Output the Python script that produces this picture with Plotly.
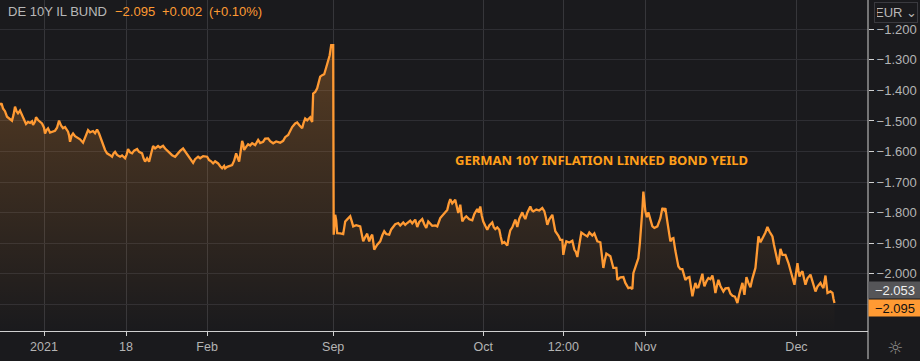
import plotly.graph_objects as go

bar_position = [0,1.5,3,5,7,9,12,13.5,15,16.5,18,20,22,24,26,28,30,32,33,35,36,38,40,42,44,45,46.5,48,50,52,55,57,59,61,63,65,68,69,70,71.5,73,75,78,80,83,85,88,90,93,95,97,99,100,102,105,107,110,112,113.5,115,117,120,122,125,126.5,128,130,132,134,137,139,142,143.5,145,147,149,151,153,155,158,160,163,165,167,170,172,175,177,180,183,185,188,190,193,195,198,200,203,207,209,211,213,215,218,220,222,224,225,227,230,232,234,236,237.5,239,240.5,242,243,244,246,248,250,252,255,256.5,258,260,263,265,268,270,273,276,280,283,285,288,290,292,295,297,299,302,303.5,305,307,310,311,312,313,315,317,320,322,324,326,328,329.5,331,333,
333.5,334,335,336,337,340,343,344,345,347,350,351.5,353,356,360,361.5,363,365,367,368,369,370.5,372,373,374,377,380,382,384,386,389,391,393,395,398,400,403,405,407,410,412,415,416,417,419,422,424,426,428,430,432,435,437,440,443,445,447,448.5,450,452,455,456.5,458,459,460,461,462,464,466,469,472,474,477,478.5,480,481.5,483,485,487,489,492,493.5,495,497,499,500.5,502,504,507,508.5,510,512,515,516,517,519,522,523.5,525,527,530,531.5,533,536,539,542,544,545.5,547,549,552,553.5,555,558,560,562,563,564.5,566,569,572,574,575.5,577,579,581,584,587,589,592,594,597,600,601.5,603,604.5,606,610,611.5,613,616,617,620,623,625,628,630,632,633,636,638,639.5,641,642,643,644,645,646.5,648,650,652,654,657,660,662,664,665,667,670,671.5,673,675,678,680,682,685,687,689,690.5,692,693.5,695,696.5,698,700,702,703,704,706,708,710,712,713.5,715,716.5,718,720,723,725,728,730,732,734.5,737,739,742,743,744,745,746,748,750,752,755,756.5,758,760,761.5,763,765,767,769,772,773.5,775,776.5,778,779,780,782,785,788,791,792.5,794,795.5,797,798,799,800.5,802,803.5,805,807,810,812,815,817,820,821.5,823,824,825,826,827,830,832,833,834]

yield_values = [-1.448,-1.442,-1.459,-1.468,-1.486,-1.492,-1.499,-1.480,-1.453,-1.468,-1.475,-1.466,-1.481,-1.490,-1.510,-1.503,-1.506,-1.501,-1.513,-1.502,-1.488,-1.497,-1.503,-1.508,-1.522,-1.541,-1.530,-1.524,-1.538,-1.535,-1.532,-1.522,-1.499,-1.515,-1.524,-1.520,-1.535,-1.547,-1.568,-1.548,-1.541,-1.550,-1.557,-1.560,-1.571,-1.552,-1.530,-1.537,-1.533,-1.540,-1.528,-1.541,-1.552,-1.568,-1.595,-1.606,-1.612,-1.617,-1.606,-1.601,-1.611,-1.617,-1.613,-1.622,-1.610,-1.592,-1.603,-1.606,-1.597,-1.592,-1.601,-1.606,-1.622,-1.633,-1.622,-1.633,-1.607,-1.582,-1.590,-1.582,-1.587,-1.581,-1.590,-1.597,-1.606,-1.612,-1.617,-1.608,-1.598,-1.590,-1.600,-1.612,-1.622,-1.637,-1.625,-1.617,-1.622,-1.615,-1.617,-1.628,-1.632,-1.639,-1.632,-1.639,-1.648,-1.655,-1.647,-1.655,-1.650,-1.647,-1.644,-1.630,-1.606,-1.620,-1.633,-1.600,-1.565,-1.575,-1.595,-1.585,-1.576,-1.580,-1.573,-1.579,-1.572,-1.562,-1.572,-1.568,-1.558,-1.557,-1.566,-1.573,-1.567,-1.571,-1.565,-1.553,-1.546,-1.532,-1.520,-1.508,-1.505,-1.513,-1.524,-1.505,-1.492,-1.498,-1.488,-1.497,-1.503,-1.410,-1.405,-1.393,-1.355,-1.350,-1.347,-1.325,-1.301,-1.285,-1.252,-1.252,
-1.872,-1.835,-1.807,-1.825,-1.867,-1.868,-1.870,-1.850,-1.829,-1.822,-1.812,-1.828,-1.845,-1.841,-1.845,-1.870,-1.894,-1.880,-1.869,-1.884,-1.894,-1.880,-1.872,-1.895,-1.921,-1.905,-1.894,-1.875,-1.861,-1.870,-1.872,-1.855,-1.847,-1.838,-1.834,-1.842,-1.832,-1.840,-1.834,-1.826,-1.835,-1.823,-1.835,-1.847,-1.830,-1.821,-1.838,-1.850,-1.829,-1.836,-1.843,-1.842,-1.845,-1.818,-1.806,-1.798,-1.791,-1.770,-1.756,-1.770,-1.758,-1.780,-1.801,-1.790,-1.774,-1.800,-1.829,-1.818,-1.812,-1.822,-1.825,-1.805,-1.788,-1.800,-1.780,-1.810,-1.829,-1.843,-1.856,-1.842,-1.832,-1.848,-1.854,-1.848,-1.856,-1.880,-1.900,-1.896,-1.908,-1.880,-1.858,-1.848,-1.823,-1.835,-1.847,-1.820,-1.799,-1.812,-1.821,-1.800,-1.780,-1.792,-1.796,-1.790,-1.793,-1.785,-1.795,-1.815,-1.840,-1.822,-1.807,-1.835,-1.861,-1.875,-1.889,-1.889,-1.938,-1.912,-1.894,-1.898,-1.892,-1.921,-1.928,-1.945,-1.905,-1.865,-1.872,-1.878,-1.865,-1.875,-1.868,-1.894,-1.897,-1.940,-1.981,-1.955,-1.934,-1.943,-1.965,-1.981,-1.981,-2.020,-2.012,-2.011,-2.030,-2.047,-2.045,-2.050,-1.998,-1.972,-1.949,-1.900,-1.845,-1.790,-1.731,-1.770,-1.796,-1.815,-1.799,-1.822,-1.845,-1.850,-1.845,-1.818,-1.785,-1.792,-1.785,-1.830,-1.894,-1.885,-1.883,-1.925,-1.976,-1.985,-1.985,-2.020,-2.013,-2.011,-2.040,-2.074,-2.050,-2.030,-2.045,-2.044,-2.022,-2.000,-2.025,-2.041,-2.025,-2.014,-2.018,-2.006,-2.030,-2.063,-2.040,-2.020,-2.040,-2.058,-2.048,-2.047,-2.065,-2.072,-2.075,-2.096,-2.065,-2.030,-2.050,-2.069,-2.040,-2.011,-2.030,-2.044,-2.015,-1.981,-1.930,-1.878,-1.897,-1.885,-1.878,-1.865,-1.847,-1.862,-1.878,-1.905,-1.932,-1.950,-1.970,-1.945,-1.919,-1.938,-1.938,-1.965,-1.998,-2.018,-2.036,-2.000,-1.965,-1.990,-2.009,-1.998,-1.992,-2.015,-2.036,-2.015,-2.003,-2.025,-2.058,-2.042,-2.030,-2.040,-2.047,-2.025,-2.006,-2.035,-2.063,-2.058,-2.063,-2.082,-2.096]

assert len(bar_position) == len(yield_values), (len(bar_position), len(yield_values))

x_tick_positions = [44,126,207,333,483,563,645,796]
x_tick_labels = ["2021","18","Feb","Sep","Oct","12:00","Nov","Dec"]
y_ticks = [-1.2,-1.3,-1.4,-1.5,-1.6,-1.7,-1.8,-1.9,-2.0,-2.1]
y_tick_labels = ["−1.200","−1.300","−1.400","−1.500","−1.600","−1.700","−1.800","−1.900","−2.000",""]
y_min, y_max = -2.1874, -1.1041
x_max = 867.5

BG = "#1a1a1d"
ORANGE = "#ff9a33"
GREY = "#b4b4b4"
FONT = "Liberation Sans"

fig = go.Figure()
fig.add_trace(go.Scatter(x=[bar_position[0], bar_position[-1]], y=[y_min, y_min],
                         mode="lines", line=dict(width=0), hoverinfo="skip", showlegend=False))
fig.add_trace(go.Scatter(x=bar_position, y=yield_values, mode="lines",
                         line=dict(color=ORANGE, width=2.3), fill="tonexty",
                         fillgradient=dict(type="vertical",
                                           colorscale=[[0, "rgba(255,154,51,0.0)"], [1, "rgba(255,154,51,0.27)"]]),
                         showlegend=False))

def head(x, text, color):
    return dict(xref="paper", yref="paper", x=x / 867.5, y=1, yshift=-2, xanchor="left", yanchor="top",
                showarrow=False, text=text, font=dict(size=13, color=color, family=FONT), xshift=-1)

fig.update_layout(
    width=920, height=361, margin=dict(l=0, r=52, t=0, b=30),
    paper_bgcolor=BG, plot_bgcolor=BG, showlegend=False,
    font=dict(family=FONT, size=13, color=GREY),
    xaxis=dict(range=[0, x_max], tickmode="array", tickvals=x_tick_positions, ticktext=x_tick_labels,
               showgrid=True, gridcolor="#36363a", gridwidth=1, zeroline=False,
               showline=True, linecolor="#d0d0d0", linewidth=1, ticks="outside", ticklen=4,
               tickcolor="#d0d0d0", tickfont=dict(size=12.5, color=GREY, family=FONT)),
    yaxis=dict(range=[y_min, y_max], side="right", tickmode="array", tickvals=y_ticks, ticktext=y_tick_labels,
               showgrid=True, gridcolor="#2e2e33", gridwidth=1, zeroline=False,
               showline=False, ticks="outside", ticklen=5, tickcolor="#d0d0d0",
               tickfont=dict(size=13, color=GREY, family=FONT)),
    shapes=[dict(type="line", xref="paper", yref="paper", x0=1, x1=1, y0=-0.085, y1=1,
                 line=dict(color="#d0d0d0", width=1))],
    annotations=[
        head(7, "DE 10Y IL BUND", "#b8b8b8"),
        head(114, "−2.095", ORANGE),
        head(161, "+0.002", ORANGE),
        head(208, "(+0.10%)", ORANGE),
        dict(x=601, y=-1.627, xref="x", yref="y", showarrow=False,
             text="<b>GERMAN 10Y INFLATION LINKED BOND YEILD</b>",
             font=dict(size=13, color="#ff9f1a", family="Noto Sans")),
        dict(xref="paper", yref="y", x=1, y=-2.053, xanchor="left", showarrow=False, bgcolor="#555558",
             text="−2.053", width=50, height=14, align="center", font=dict(size=13, color="#f0f0f0", family=FONT)),
        dict(xref="paper", yref="y", x=1, y=-2.112, xanchor="left", showarrow=False, bgcolor=ORANGE,
             text="−2.095", width=50, height=14, align="center", font=dict(size=13, color="#111111", family=FONT)),
        dict(xref="paper", yref="paper", x=1, xshift=28, y=1, yshift=-2, xanchor="center", yanchor="top", showarrow=False,
             text="EUR ⌄", bordercolor="#3a3a3f", borderwidth=1, borderpad=2, width=38, height=15,
             font=dict(size=13, color="#b8b8b8", family=FONT)),
        dict(xref="paper", yref="paper", x=1, xshift=27, y=-0.05, xanchor="center", yanchor="middle", showarrow=False,
             text="☼", font=dict(size=18, color="#8a8a8a", family="DejaVu Sans")),
    ],
)
fig.write_html("out.html", config=dict(displayModeBar=False),
               post_script="document.body.style.margin='0';document.body.style.background='#1a1a1d';document.documentElement.style.overflow='hidden';")
